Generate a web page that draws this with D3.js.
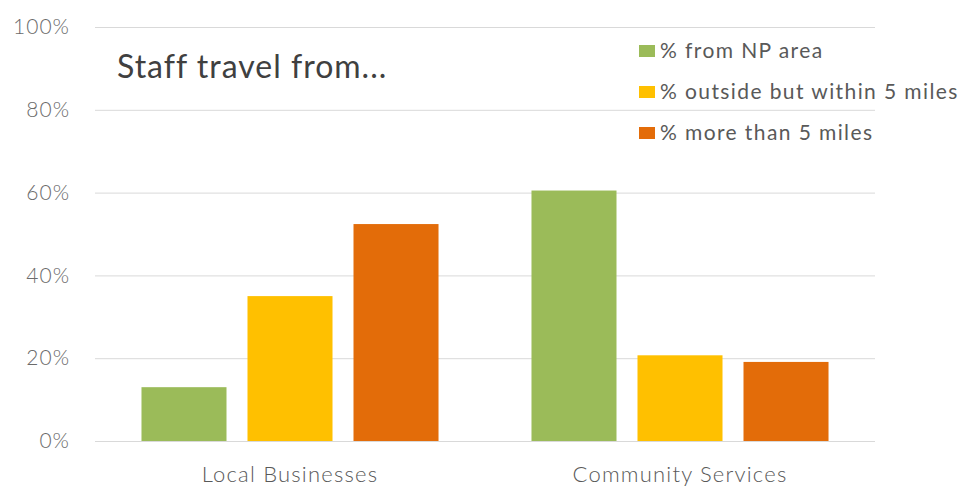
<!DOCTYPE html>
<html>
<head>
<meta charset="utf-8">
<script src="https://cdn.jsdelivr.net/npm/d3@7"></script>
<style>
  html, body { margin: 0; padding: 0; background: #fff; }
  svg { display: block; font-family: Lato, "Open Sans", sans-serif; }
</style>
</head>
<body>
<svg id="chart" width="966" height="487"></svg>
<script>
// Staff travel distance by sector
const categories = ["Local Businesses", "Community Services"];
const seriesNames = ["% from NP area", "% outside but within 5 miles", "% more than 5 miles"];
const seriesColors = ["#9BBB59", "#FFC000", "#E36C09"];
const pctFromNP = [0.13, 0.605];
const pctWithin5 = [0.35, 0.207];
const pctOver5 = [0.524, 0.191];
const yTicks = [0, 0.2, 0.4, 0.6, 0.8, 1.0];
const title = "Staff travel from...";

const seriesValues = [pctFromNP, pctWithin5, pctOver5];

const svg = d3.select("#chart");
const plot = { left: 95, right: 875, top: 27, bottom: 441 };

const y = d3.scaleLinear().domain([0, 1]).range([plot.bottom, plot.top]);
const x0 = d3.scaleBand().domain(categories).range([plot.left, plot.right]).padding(0);
const x1 = d3.scaleBand().domain(seriesNames).range([0, x0.bandwidth()])
  .paddingInner(0.198).paddingOuter(0.4385);

// gridlines and percentage labels
const yAxis = svg.append("g")
  .attr("transform", `translate(${plot.left},0)`)
  .call(d3.axisLeft(y).tickValues(yTicks).tickFormat(d3.format(".0%"))
    .tickSize(-(plot.right - plot.left)).tickPadding(25));
yAxis.select(".domain").remove();
yAxis.selectAll(".tick line").attr("stroke", "#D9D9D9").attr("stroke-width", 1);
yAxis.selectAll(".tick text").attr("fill", "#6b6b6b").style("font-size", "21px")
  .style("letter-spacing", "1px")
  .style("font-family", "Lato, sans-serif").style("font-weight", 300);

// bars
const groups = svg.append("g").selectAll("g")
  .data(categories)
  .join("g")
  .attr("transform", d => `translate(${x0(d)},0)`);

groups.selectAll("rect")
  .data((c, ci) => seriesNames.map((s, si) => ({ s, color: seriesColors[si], v: seriesValues[si][ci] })))
  .join("rect")
  .attr("x", d => x1(d.s))
  .attr("width", x1.bandwidth())
  .attr("y", d => y(d.v))
  .attr("height", d => y(0) - y(d.v))
  .attr("fill", d => d.color);

// category labels
const xAxis = svg.append("g")
  .attr("transform", `translate(0,${plot.bottom})`)
  .call(d3.axisBottom(x0).tickSize(0).tickPadding(0));
xAxis.select(".domain").remove();
xAxis.selectAll(".tick text").attr("fill", "#595959").attr("dy", null).attr("y", 41)
  .style("font-size", "22px").style("letter-spacing", "1.2px")
  .style("font-family", "Lato, sans-serif").style("font-weight", 300);

// title inside the plot
svg.append("text")
  .attr("x", 117).attr("y", 78)
  .attr("fill", "#404040")
  .style("font-size", "32px")
  .style("letter-spacing", "1px")
  .text(title);

// legend
const legend = svg.append("g").attr("transform", "translate(639,0)");
const rows = legend.selectAll("g").data(seriesNames).join("g")
  .attr("transform", (d, i) => `translate(0,${51 + i * 41})`);
rows.append("rect").attr("x", 0).attr("y", -6).attr("width", 16).attr("height", 12)
  .attr("fill", (d, i) => seriesColors[i]);
rows.append("text").attr("x", 21).attr("dy", "0.35em").attr("fill", "#595959")
  .style("font-size", "21px").style("letter-spacing", "1.4px").text(d => d);
</script>
</body>
</html>
